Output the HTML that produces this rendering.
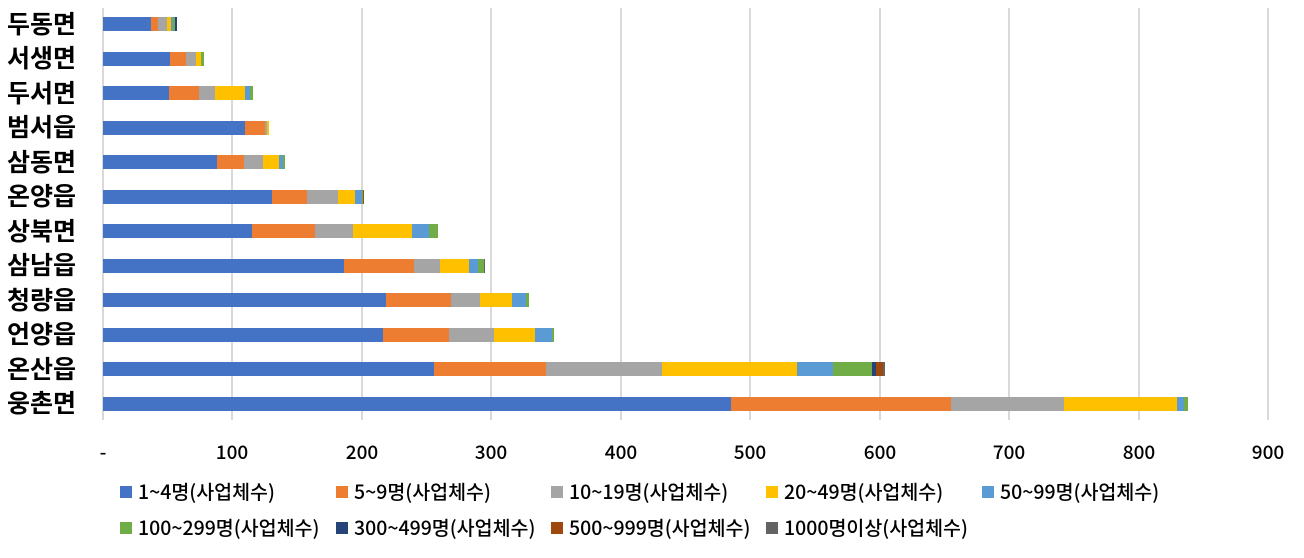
<!DOCTYPE html>
<html><head><meta charset="utf-8"><style>
body{margin:0;background:#fff;}
svg text{font-family:"Noto Sans CJK KR","Liberation Sans",sans-serif;}
</style></head><body>
<svg width="1304" height="553" viewBox="0 0 1304 553" xmlns="http://www.w3.org/2000/svg">
<g stroke="#d9d9d9" stroke-width="2">
<line x1="232" y1="8" x2="232" y2="420"/><line x1="362" y1="8" x2="362" y2="420"/><line x1="491" y1="8" x2="491" y2="420"/><line x1="621" y1="8" x2="621" y2="420"/><line x1="750" y1="8" x2="750" y2="420"/><line x1="880" y1="8" x2="880" y2="420"/><line x1="1009" y1="8" x2="1009" y2="420"/><line x1="1139" y1="8" x2="1139" y2="420"/><line x1="1268" y1="8" x2="1268" y2="420"/><line x1="103" y1="8" x2="103" y2="420"/>
</g>
<g font-size="25" font-weight="bold" fill="#000" text-anchor="end">
<text x="76" y="33">두동면</text><text x="76" y="67">서생면</text><text x="76" y="102">두서면</text><text x="76" y="136">범서읍</text><text x="76" y="171">삼동면</text><text x="76" y="205">온양읍</text><text x="76" y="240">상북면</text><text x="76" y="274">삼남읍</text><text x="76" y="309">청량읍</text><text x="76" y="343">언양읍</text><text x="76" y="378">온산읍</text><text x="76" y="412">웅촌면</text>
</g>
<g font-size="19" font-weight="500" fill="#000" text-anchor="middle">
<text x="103" y="459">-</text><text x="232" y="459">100</text><text x="362" y="459">200</text><text x="491" y="459">300</text><text x="621" y="459">400</text><text x="750" y="459">500</text><text x="880" y="459">600</text><text x="1009" y="459">700</text><text x="1139" y="459">800</text><text x="1268" y="459">900</text>
</g>
<g font-size="19.5" font-weight="500" fill="#000">
<rect x="120" y="486" width="12" height="12" fill="#4472c4"/><text x="138" y="499">1~4명(사업체수)</text>
<rect x="336" y="486" width="12" height="12" fill="#ed7d31"/><text x="354" y="499">5~9명(사업체수)</text>
<rect x="551" y="486" width="12" height="12" fill="#a5a5a5"/><text x="569" y="499">10~19명(사업체수)</text>
<rect x="766" y="486" width="12" height="12" fill="#ffc000"/><text x="784" y="499">20~49명(사업체수)</text>
<rect x="982" y="486" width="12" height="12" fill="#5b9bd5"/><text x="1000" y="499">50~99명(사업체수)</text>
<rect x="120" y="522" width="12" height="12" fill="#70ad47"/><text x="138" y="535">100~299명(사업체수)</text>
<rect x="336" y="522" width="12" height="12" fill="#264478"/><text x="354" y="535">300~499명(사업체수)</text>
<rect x="551" y="522" width="12" height="12" fill="#9e480e"/><text x="569" y="535">500~999명(사업체수)</text>
<rect x="766" y="522" width="12" height="12" fill="#636363"/><text x="784" y="535">1000명이상(사업체수)</text>
</g>
<g>
<rect x="103" y="17" width="48" height="14" fill="#4472c4"/><rect x="151" y="17" width="7" height="14" fill="#ed7d31"/><rect x="158" y="17" width="9" height="14" fill="#a5a5a5"/><rect x="167" y="17" width="4" height="14" fill="#ffc000"/><rect x="171" y="17" width="2" height="14" fill="#5b9bd5"/><rect x="173" y="17" width="2" height="14" fill="#70ad47"/><rect x="175" y="17" width="2" height="14" fill="#264478"/>
<rect x="103" y="52" width="67" height="14" fill="#4472c4"/><rect x="170" y="52" width="16" height="14" fill="#ed7d31"/><rect x="186" y="52" width="10" height="14" fill="#a5a5a5"/><rect x="196" y="52" width="5" height="14" fill="#ffc000"/><rect x="201" y="52" width="3" height="14" fill="#70ad47"/>
<rect x="103" y="86" width="66" height="14" fill="#4472c4"/><rect x="169" y="86" width="30" height="14" fill="#ed7d31"/><rect x="199" y="86" width="16" height="14" fill="#a5a5a5"/><rect x="215" y="86" width="30" height="14" fill="#ffc000"/><rect x="245" y="86" width="5" height="14" fill="#5b9bd5"/><rect x="250" y="86" width="3" height="14" fill="#70ad47"/>
<rect x="103" y="121" width="142" height="14" fill="#4472c4"/><rect x="245" y="121" width="20" height="14" fill="#ed7d31"/><rect x="265" y="121" width="2" height="14" fill="#a5a5a5"/><rect x="267" y="121" width="2" height="14" fill="#ffc000"/>
<rect x="103" y="155" width="114" height="14" fill="#4472c4"/><rect x="217" y="155" width="27" height="14" fill="#ed7d31"/><rect x="244" y="155" width="19" height="14" fill="#a5a5a5"/><rect x="263" y="155" width="16" height="14" fill="#ffc000"/><rect x="279" y="155" width="4" height="14" fill="#5b9bd5"/><rect x="283" y="155" width="2" height="14" fill="#70ad47"/>
<rect x="103" y="190" width="169" height="14" fill="#4472c4"/><rect x="272" y="190" width="35" height="14" fill="#ed7d31"/><rect x="307" y="190" width="31" height="14" fill="#a5a5a5"/><rect x="338" y="190" width="17" height="14" fill="#ffc000"/><rect x="355" y="190" width="7" height="14" fill="#5b9bd5"/><rect x="362" y="190" width="1" height="14" fill="#70ad47"/><rect x="363" y="190" width="1" height="14" fill="#9e480e"/>
<rect x="103" y="224" width="149" height="14" fill="#4472c4"/><rect x="252" y="224" width="63" height="14" fill="#ed7d31"/><rect x="315" y="224" width="38" height="14" fill="#a5a5a5"/><rect x="353" y="224" width="59" height="14" fill="#ffc000"/><rect x="412" y="224" width="17" height="14" fill="#5b9bd5"/><rect x="429" y="224" width="9" height="14" fill="#70ad47"/>
<rect x="103" y="259" width="241" height="14" fill="#4472c4"/><rect x="344" y="259" width="70" height="14" fill="#ed7d31"/><rect x="414" y="259" width="26" height="14" fill="#a5a5a5"/><rect x="440" y="259" width="29" height="14" fill="#ffc000"/><rect x="469" y="259" width="9" height="14" fill="#5b9bd5"/><rect x="478" y="259" width="6" height="14" fill="#70ad47"/><rect x="484" y="259" width="1" height="14" fill="#636363"/>
<rect x="103" y="293" width="283" height="14" fill="#4472c4"/><rect x="386" y="293" width="65" height="14" fill="#ed7d31"/><rect x="451" y="293" width="29" height="14" fill="#a5a5a5"/><rect x="480" y="293" width="32" height="14" fill="#ffc000"/><rect x="512" y="293" width="14" height="14" fill="#5b9bd5"/><rect x="526" y="293" width="3" height="14" fill="#70ad47"/>
<rect x="103" y="328" width="280" height="14" fill="#4472c4"/><rect x="383" y="328" width="66" height="14" fill="#ed7d31"/><rect x="449" y="328" width="45" height="14" fill="#a5a5a5"/><rect x="494" y="328" width="41" height="14" fill="#ffc000"/><rect x="535" y="328" width="17" height="14" fill="#5b9bd5"/><rect x="552" y="328" width="2" height="14" fill="#70ad47"/>
<rect x="103" y="362" width="331" height="14" fill="#4472c4"/><rect x="434" y="362" width="112" height="14" fill="#ed7d31"/><rect x="546" y="362" width="116" height="14" fill="#a5a5a5"/><rect x="662" y="362" width="135" height="14" fill="#ffc000"/><rect x="797" y="362" width="36" height="14" fill="#5b9bd5"/><rect x="833" y="362" width="39" height="14" fill="#70ad47"/><rect x="872" y="362" width="4" height="14" fill="#264478"/><rect x="876" y="362" width="7" height="14" fill="#9e480e"/><rect x="883" y="362" width="2" height="14" fill="#636363"/>
<rect x="103" y="397" width="628" height="14" fill="#4472c4"/><rect x="731" y="397" width="220" height="14" fill="#ed7d31"/><rect x="951" y="397" width="113" height="14" fill="#a5a5a5"/><rect x="1064" y="397" width="113" height="14" fill="#ffc000"/><rect x="1177" y="397" width="7" height="14" fill="#5b9bd5"/><rect x="1184" y="397" width="4" height="14" fill="#70ad47"/>
</g>
</svg>
</body></html>
